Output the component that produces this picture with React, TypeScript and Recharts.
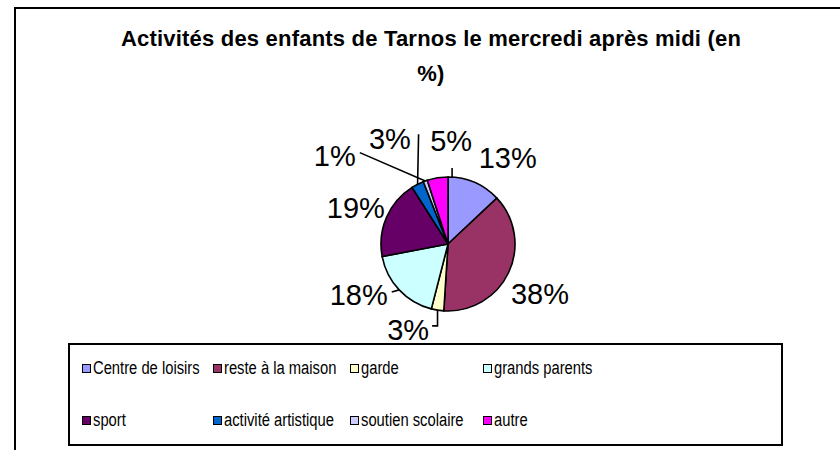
import React from 'react';
import { PieChart, Pie, Cell, Legend } from 'recharts';

const categories = [
  'Centre de loisirs',
  'reste à la maison',
  'garde',
  'grands parents',
  'sport',
  'activité artistique',
  'soutien scolaire',
  'autre',
];
const values = [13, 38, 3, 18, 19, 3, 1, 5];
const colors = ['#9999FF', '#993366', '#FFFFCC', '#CCFFFF', '#660066', '#0066CC', '#CCCCFF', '#FF00FF'];
const titleLines = ['Activités des enfants de Tarnos le mercredi après midi (en', '%)'];

const data = categories.map((name, i) => ({ name, value: values[i] }));

const FONT = '"Liberation Sans", Arial, sans-serif';
const RAD = Math.PI / 180;

// label layout tweaks (Excel-like placement)
const LABEL_NUDGE: [number, number][] = [
  [22, 1], [6, 10], [-25, -8], [-20, -14], [-5, 2], [-15, -20], [-81, 1], [18, -9],
];
const LEADER: string[] = ['tick', 'none', 'elbow', 'straight', 'none', 'up', 'straight', 'none'];

function renderLabel(props: any) {
  const { cx, cy, midAngle, outerRadius, index, value, startAngle } = props;
  const c = Math.cos(-midAngle * RAD);
  const s = Math.sin(-midAngle * RAD);
  const lx = cx + (outerRadius + 28) * c + LABEL_NUDGE[index][0];
  const ly = cy + (outerRadius + 28) * s + LABEL_NUDGE[index][1];
  const px = cx + outerRadius * c;
  const py = cy + outerRadius * s;
  const text = `${value}%`;
  const halfW = text.length === 2 ? 21 : 29;
  let d = '';
  const kind = LEADER[index];
  if (kind === 'elbow') d = `M${px},${py} V${ly - 4} H${lx + halfW + 3}`;
  else if (kind === 'straight') d = `M${px},${py} L${lx + halfW + 4},${ly - 3}`;
  else if (kind === 'up') d = `M${px},${py} L${px + 1},${ly - 5}`;
  else if (kind === 'tick') {
    const a = (startAngle - 3.5) * RAD;
    const tx = cx + outerRadius * Math.cos(-a);
    const ty = cy + outerRadius * Math.sin(-a);
    d = `M${tx},${ty} V${ty - 9}`;
  }
  return (
    <g key={`lbl-${index}`}>
      {d && <path d={d} stroke="#000" strokeWidth={1.6} fill="none" />}
      <text x={lx} y={ly} textAnchor="middle" dominantBaseline="central" fontSize={29} fontFamily={FONT} fill="#000">
        {text}
      </text>
    </g>
  );
}

const COL_X = [82, 213, 350, 483];
const ROW_Y = [368, 420];
const LEG_LEFT = 68;
const LEG_TOP = 343;

function LegendContent() {
  return (
    <div style={{ position: 'relative', width: '100%', height: '100%' }}>
      {categories.map((name, i) => (
        <div
          key={name}
          style={{
            position: 'absolute',
            left: COL_X[i % 4] - LEG_LEFT - 2,
            top: ROW_Y[Math.floor(i / 4)] - LEG_TOP - 2 - 11,
            height: 22,
            display: 'flex',
            alignItems: 'center',
            whiteSpace: 'nowrap',
            fontFamily: FONT,
            color: '#000',
          }}
        >
          <span
            style={{
              display: 'inline-block',
              width: 7,
              height: 7,
              border: '1.5px solid #000',
              background: colors[i],
              marginRight: 2,
            }}
          />
          <span
            style={{
              display: 'inline-block',
              fontSize: 18,
              transform: 'scaleX(0.82)',
              transformOrigin: 'left center',
            }}
          >
            {name}
          </span>
        </div>
      ))}
    </div>
  );
}

export default function App() {
  return (
    <div style={{ position: 'absolute', left: 0, top: 0, width: 840, height: 450, overflow: 'hidden', background: '#fff' }}>
      <div
        style={{
          position: 'absolute',
          left: 14,
          top: 7,
          width: 1000,
          height: 1000,
          borderLeft: '2px solid #000',
          borderTop: '2px solid #000',
        }}
      />
      <div style={{ position: 'absolute', left: 0, top: 0 }}>
        <PieChart width={840} height={450} margin={{ top: 0, right: 0, bottom: 0, left: 0 }}>
          <Pie
            data={data}
            dataKey="value"
            nameKey="name"
            cx={448}
            cy={244}
            outerRadius={67}
            startAngle={90}
            endAngle={-270}
            stroke="#000"
            strokeWidth={1.6}
            label={renderLabel}
            labelLine={false}
            isAnimationActive={false}
          >
            {data.map((d, i) => (
              <Cell key={d.name} fill={colors[i]} />
            ))}
          </Pie>
          <Legend
            content={<LegendContent />}
            wrapperStyle={{
              left: LEG_LEFT,
              top: LEG_TOP,
              width: 715,
              height: 103,
              border: '2px solid #000',
              boxSizing: 'border-box',
              background: '#fff',
            }}
          />
        </PieChart>
      </div>
      {titleLines.map((t, i) => (
        <div
          key={i}
          style={{
            position: 'absolute',
            left: 0,
            width: 862,
            top: [47, 82][i] - 21,
            textAlign: 'center',
            fontFamily: FONT,
            fontWeight: 'bold',
            fontSize: 22,
            letterSpacing: 0.2,
            lineHeight: '26px',
            whiteSpace: 'nowrap',
            color: '#000',
          }}
        >
          {t}
        </div>
      ))}
    </div>
  );
}
